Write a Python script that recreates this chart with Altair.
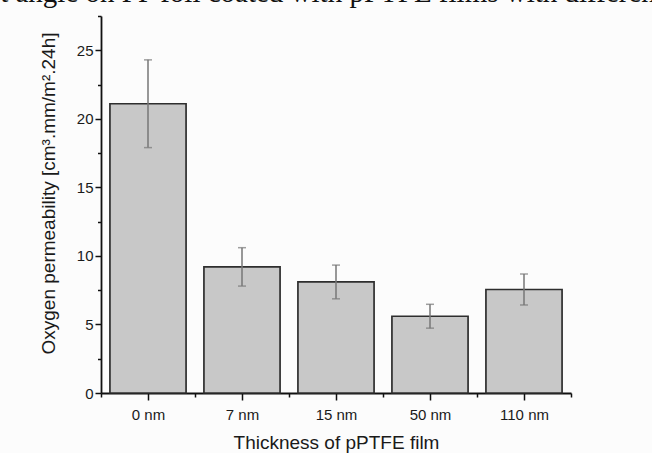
import json
import altair as alt
import pandas as pd

# ---- data ----
categories = ["0 nm", "7 nm", "15 nm", "50 nm", "110 nm"]
permeability = [21.1, 9.2, 8.1, 5.6, 7.55]
errors = [3.2, 1.4, 1.23, 0.87, 1.13]
x_title = "Thickness of pPTFE film"
y_title = "Oxygen permeability [cm³.mm/m².24h]"
caption = "Contact angle on PP foil coated with pPTFE films with different thickness"

df = pd.DataFrame({
    "cat": categories,
    "idx": list(range(len(categories))),
    "val": permeability,
    "err": errors,
})

n = len(categories)
x_vals = [i / 2 - 0.5 for i in range(2 * n + 1)]
y_vals = [i * 2.5 for i in range(12)]

label_expr = (
    "datum.value % 1 == 0 ? " + json.dumps(categories) + "[datum.value] : ''"
)

x_axis = alt.Axis(
    values=x_vals,
    labelExpr=label_expr,
    title=x_title,
    tickSize={"condition": {"test": "datum.value % 1 == 0", "value": 7}, "value": 4},
    labelPadding=7,
    labelAngle=0,
    labelFlush=False,
    labelOverlap=False,
    titleY=55,
    titleBaseline="alphabetic",
    grid=False,
)
y_axis = alt.Axis(
    values=y_vals,
    labelExpr="datum.value % 5 == 0 ? datum.label : ''",
    title=y_title,
    tickSize={"condition": {"test": "datum.value % 5 == 0", "value": 6}, "value": 3.5},
    labelPadding=2,
    labelFlush=False,
    labelOverlap=False,
    titleX=-47,
    titleY=177,
    titleBaseline="alphabetic",
    grid=False,
)

xscale = alt.Scale(domain=[-0.5, n - 0.5], nice=False, zero=False)
yscale = alt.Scale(domain=[0, 27.5], nice=False)

base = alt.Chart(df).transform_calculate(
    x0="datum.idx - 0.405",
    x1="datum.idx + 0.405",
    lo="datum.val - datum.err",
    hi="datum.val + datum.err",
)

bars = base.mark_rect(
    color="#c8c8c8", stroke="#2e2e2e", strokeWidth=1.7
).encode(
    x=alt.X("x0:Q", scale=xscale, axis=x_axis),
    x2="x1:Q",
    y=alt.Y("val:Q", scale=yscale, axis=y_axis),
    y2=alt.datum(0),
)

errs = base.mark_errorbar(
    ticks={"size": 8, "thickness": 1.5, "color": "#777777"},
    rule={"strokeWidth": 1.5, "color": "#777777"},
    color="#777777",
).encode(
    x=alt.X("idx:Q", scale=xscale, axis=x_axis),
    y=alt.Y("lo:Q", scale=yscale, axis=y_axis),
    y2="hi:Q",
)

cap = alt.Chart(pd.DataFrame({"t": [caption]})).mark_text(
    font="Liberation Serif", fontSize=29, align="left", baseline="alphabetic", color="#111111"
).encode(
    x=alt.value(-183),
    y=alt.value(-14),
    text="t:N",
)

chart = alt.layer(bars, errs, cap).properties(
    width=470,
    height=377,
    autosize=alt.AutoSizeParams(type="none"),
    padding={"left": 101, "top": 16, "right": 81, "bottom": 60},
    background="#fcfcfc",
).configure_view(stroke=None).configure_axis(
    domainColor="#111111",
    domainWidth=1.8,
    tickColor="#111111",
    tickWidth=1.5,
    labelFont="Liberation Sans",
    labelFontSize=15,
    labelColor="#1a1a1a",
    titleFont="Liberation Sans",
    titleFontSize=19,
    titleFontWeight="normal",
    titleColor="#1a1a1a",
)

chart.save("out.html", embed_options={"renderer": "svg", "actions": False})
